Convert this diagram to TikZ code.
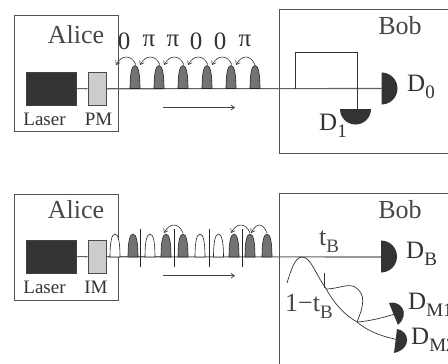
\documentclass[tikz,border=0pt]{standalone}
\usepackage{fontspec}
\setmainfont{Liberation Serif}
\usetikzlibrary{arrows.meta}
\tikzset{
  x=1pt,y=-1pt,
  boxframe/.style={draw=black!68,line width=1pt,fill=none,inner sep=0pt,anchor=north west},
  laserbox/.style={draw=black!75,fill=black!80,line width=.6pt,inner sep=0pt,anchor=north west,minimum width=50pt,minimum height=32.5pt},
  modbox/.style={draw=black!70,fill=black!20,line width=1pt,inner sep=0pt,anchor=north west,minimum width=18.5pt,minimum height=32.5pt},
  beam/.style={draw=black!62,line width=1.1pt},
  thin line/.style={draw=black!80,line width=.7pt},
  hop/.style={draw=black!80,line width=.6pt,-{Straight Barb[length=3.5pt,width=5pt]}},
  flow/.style={draw=black!75,line width=.7pt,-{Straight Barb[length=3.5pt,width=5pt]}},
  big/.style={font=\fontsize{26}{26}\selectfont,text=black!72,inner sep=0pt},
  med/.style={font=\fontsize{19}{19}\selectfont,text=black!80,inner sep=0pt},
  lab/.style={font=\fontsize{25}{25}\selectfont,text=black!80,inner sep=0pt},
  det/.style={fill=black!80,draw=none},
  slit/.style={draw=black!85,line width=.8pt},
}
\newcommand{\subs}[1]{\raisebox{-7pt}{\fontsize{19}{19}\selectfont #1}}
\newcommand{\bump}[3]{\draw[draw=black!85,line width=.6pt,fill=#3] (#1-5,#2) .. controls (#1-5,#2-14) and (#1-3.5,#2-23) .. (#1,#2-23) .. controls (#1+3.5,#2-23) and (#1+5,#2-14) .. (#1+5,#2) -- cycle;}
\newcommand{\hopfrom}[4]{\draw[hop] (#1,#3) .. controls (#1-4,#3-10) and (#2+6,#3-11) .. (#2,#4);}
\begin{document}
\begin{tikzpicture}
\useasboundingbox (0,0) rectangle (448,364);
\clip (0,0) rectangle (448,364);
\fill[white] (0,0) rectangle (448,364);
% top panel
\node[boxframe,minimum width=104pt,minimum height=116pt] (aliceT) at (14,15) {};
\node[boxframe,minimum width=180pt,minimum height=144pt] (bobT) at (279,9) {};
\node[laserbox] (laserT) at (26,72) {};
\node[modbox] (pm) at (87.5,72) {};
\coordinate (d0) at (381.5,88.5);
\coordinate (d1) at (357,109);
\coordinate (split) at (295,88.5);
\draw[beam] (laserT) -- (pm);
\draw[beam] (pm.east) -- (d0);
\draw[thin line] (split) -- (295,52) -- (357,52) -- (d1);
\fill[det] (381.5,72.5) arc[start angle=90,end angle=-90,radius=16pt] -- cycle;
\fill[det] (340,109) arc[start angle=180,end angle=360,radius=15.5pt] -- cycle;
\foreach \c in {135,159,183,207,231,255} {\bump{\c}{88.5}{black!55}}
\foreach \a/\b in {136/116,160/140,184/164,208/188,232/212,255/236} {\hopfrom{\a}{\b}{65}{65}}
\node[big] (alice1) at (76,35) {Alice};
\node[big] (bob1) at (400,26) {Bob};
\node[med] (l1) at (44.5,119) {Laser};
\node[med] (m1) at (98.5,119) {PM};
\foreach \x/\t in {124/0,149/π,173/π,196/0,220/0,245/π} {\node[lab] (p\x) at (\x,41) {\t};}
\coordinate (fa) at (163,107.5); \coordinate (fb) at (235,107.5);
\draw[flow] (fa) -- (fb);
\node[lab,anchor=base west] (D0) at (407,91) {D\subs{0}};
\node[lab,anchor=base west] (D1) at (319,130) {D\subs{1}};
% bottom panel
\node[boxframe,minimum width=104pt,minimum height=106pt] (aliceB) at (14,194) {};
\node[boxframe,minimum width=180pt,minimum height=200pt] (bobB) at (279,193) {};
\node[laserbox] (laserB) at (26,240) {};
\node[modbox] (im) at (87.5,240) {};
\coordinate (db) at (381,257);
\draw[beam] (laserB) -- (im);
\draw[beam] (im.east) -- (db);
\fill[det] (381,240.5) arc[start angle=90,end angle=-90,radius=16pt] -- cycle;
\foreach \c in {115,150,200,218.5} {\bump{\c}{257}{white}}
\foreach \c in {133,166,183,234,250,267} {\bump{\c}{257}{black!55}}
\foreach \c in {140,174.5,209,242} {\draw[slit] (\c,229) -- (\c,267);}
\hopfrom{183}{164}{233}{233}
\hopfrom{250}{231}{233}{233}
\hopfrom{267}{251}{233}{233}
\node[big] (alice2) at (76,210) {Alice};
\node[big] (bob2) at (400,210) {Bob};
\node[med] (l2) at (44.5,287) {Laser};
\node[med] (m2) at (96,287) {IM};
\coordinate (fc) at (163,275.7); \coordinate (fd) at (235,275.7);
\draw[flow] (fc) -- (fd);
\coordinate (w0) at (287,283);
\coordinate (w1) at (302,257);
\coordinate (w2) at (325,287);
\coordinate (w3) at (357,322);
\coordinate (dm2) at (399,340);
\coordinate (dm1) at (395,314);
\draw[thin line] (w0) .. controls (291,270) and (295,257) .. (w1) .. controls (311,257) and (316,275) .. (w2) .. controls (335,305) and (345,315) .. (w3) .. controls (370,333) and (385,337) .. (dm2);
\draw[thin line] (324,273) -- (324,288);
\draw[thin line] (326,289) .. controls (338,289) and (348,283) .. (355,287) .. controls (366,294) and (364,305) .. (w3);
\draw[thin line] (w3) .. controls (370,321) and (382,318) .. (dm1);
\fill[det] (389,303) .. controls (400,300) and (411,313) .. (398,325) -- cycle;
\fill[det] (397,329) .. controls (410,331) and (412,349) .. (394,353) -- cycle;
\node[big,anchor=base west] (tb) at (319,245) {t\subs{B}};
\node[lab,anchor=base west] (DB) at (406,258) {D\subs{B}};
\node[big,anchor=base west] (tc) at (285,311) {1−t\subs{B}};
\node[lab,anchor=base west] (DM1) at (408,309) {D\subs{M1}};
\node[lab,anchor=base west] (DM2) at (411,344) {D\subs{M2}};
\end{tikzpicture}
\end{document}
